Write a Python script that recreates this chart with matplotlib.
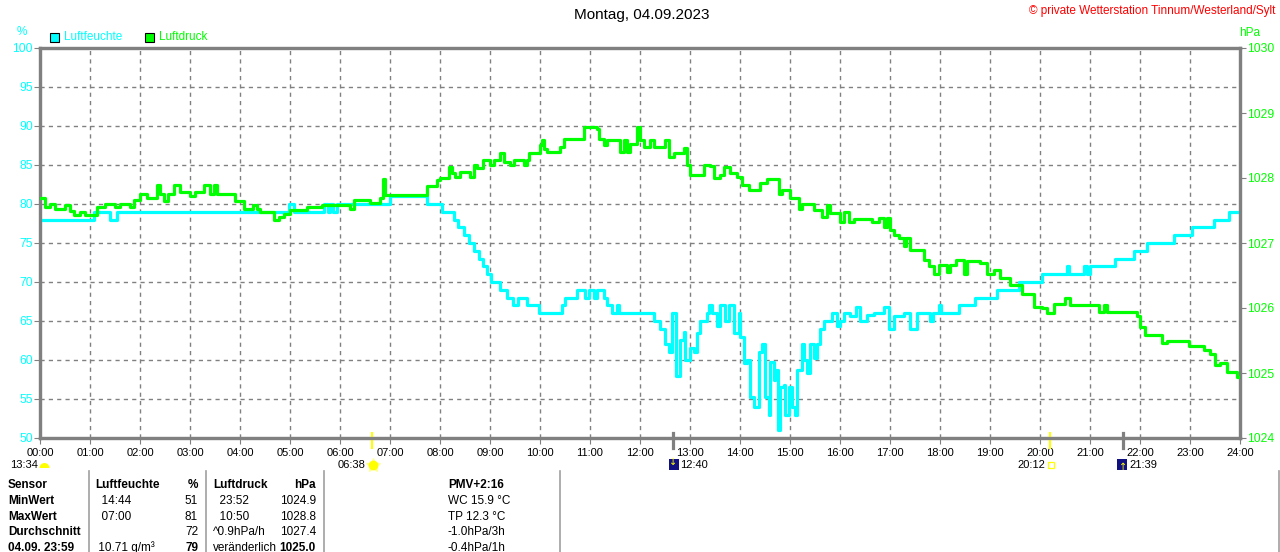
import matplotlib
matplotlib.use("Agg")
import matplotlib.pyplot as plt
from matplotlib.patches import Rectangle, Wedge

plt.rcParams['font.family'] = ['Liberation Sans', 'DejaVu Sans']

# Luftfeuchte (%), time in hours, step values
hum_t = [0.0, 1.07, 1.40, 1.53, 4.97, 5.07, 5.67, 5.75, 5.80, 5.85, 5.93, 7.0, 7.74, 8.04, 8.27,
         8.37, 8.47, 8.57, 8.67, 8.77, 8.87, 8.93, 9.03, 9.2, 9.33, 9.45, 9.55, 9.73, 9.97, 10.43,
         10.5, 10.73, 10.9, 10.97, 11.07, 11.13, 11.27, 11.33, 11.43, 11.53, 11.57,
         12.27, 12.4, 12.5, 12.57, 12.63, 12.72, 12.8, 12.87, 12.9, 13.0, 13.07, 13.13, 13.2, 13.33,
         13.37, 13.43, 13.53, 13.6, 13.7, 13.77, 13.87, 13.97, 14.0, 14.07, 14.13, 14.2, 14.27,
         14.37, 14.43, 14.5, 14.57, 14.6, 14.67, 14.7, 14.75, 14.8, 14.87, 14.9, 14.97, 15.03,
         15.1, 15.13, 15.23, 15.27, 15.33, 15.4, 15.47, 15.53, 15.6, 15.67, 15.83, 15.93, 16.0,
         16.07, 16.2, 16.33, 16.4, 16.53, 16.67, 16.87, 16.97, 17.07, 17.27, 17.4, 17.53, 17.8,
         17.85, 17.97, 18.02, 18.37, 18.7, 19.13, 19.57, 20.03, 20.53, 20.58, 20.87, 20.93, 21.0,
         21.5, 21.87, 22.13, 22.67, 23.03, 23.47, 23.77, 24.0]
hum_v = [78, 79, 78, 79, 80, 79, 80, 79, 80, 79, 80, 81, 80, 79, 78,
         77, 76, 75, 74, 73, 72, 71, 70, 69, 68, 67, 68, 67, 66, 67,
         68, 69, 68, 69, 68, 69, 68, 67, 66, 67, 66,
         65, 64, 62, 61, 66, 58, 62.6, 63.6, 60, 61.5, 61, 63.4, 65, 66,
         67, 66, 64.3, 67, 65, 67, 63.4, 66, 63, 59.6, 60, 55.3, 54,
         61, 62, 55.3, 53, 59.8, 57.4, 58.7, 51, 56.6, 56.8, 53, 56.6, 54,
         53, 58.7, 62, 60, 58.3, 62, 60.2, 62, 64, 65, 66, 64.3, 65,
         66, 65.6, 66.8, 65, 65.8, 66, 66.8, 64, 65.6, 66, 64, 66, 65,
         66, 67, 66, 67, 68, 69, 70, 71, 72, 71, 72, 71, 72,
         73, 74, 75, 76, 77, 78, 79, 79]

# Luftdruck (hPa)
pres_t = [0.0, 0.1, 0.2, 0.3, 0.5, 0.6, 0.67, 0.8, 0.9, 1.13, 1.3, 1.5, 1.6, 1.8, 1.87, 2.0,
          2.13, 2.33, 2.4, 2.47, 2.55, 2.67, 2.8, 3.0, 3.1, 3.27, 3.4, 3.47, 3.53, 3.9, 4.07,
          4.27, 4.33, 4.4, 4.67, 4.77, 4.87, 5.0, 5.33, 5.63, 6.2, 6.27, 6.6, 6.8, 6.85, 6.9,
          7.73, 7.93, 8.0, 8.17, 8.23, 8.3, 8.4, 8.6, 8.67, 8.73, 8.87, 9.0, 9.07, 9.2, 9.27,
          9.4, 9.47, 9.67, 9.73, 9.77, 10.0, 10.03, 10.07, 10.13, 10.4, 10.47, 10.87, 11.13,
          11.17, 11.27, 11.33, 11.6, 11.67, 11.73, 11.8, 11.93, 12.0, 12.07, 12.2, 12.27, 12.5,
          12.57, 12.67, 12.87, 12.93, 13.0, 13.27, 13.4, 13.47, 13.6, 13.67, 13.8, 13.93, 14.03,
          14.17, 14.4, 14.53, 14.77, 14.83, 15.0, 15.17, 15.23, 15.47, 15.63, 15.73, 15.8, 16.0,
          16.07, 16.17, 16.27, 16.63, 16.77, 16.87, 16.93, 17.0, 17.07, 17.17, 17.27, 17.33,
          17.4, 17.67, 17.77, 17.87, 17.97, 18.13, 18.2, 18.33, 18.47, 18.53, 18.8, 18.93,
          19.07, 19.2, 19.4, 19.63, 19.87, 20.03, 20.13, 20.27, 20.5, 20.6, 21.17, 21.27, 21.33,
          21.93, 22.0, 22.1, 22.43, 22.53, 22.97, 23.27, 23.4, 23.5, 23.6, 23.73, 23.93, 24.0]
pres_v = [1027.69, 1027.55, 1027.6, 1027.53, 1027.58, 1027.5, 1027.43, 1027.48, 1027.43,
          1027.56, 1027.6, 1027.55, 1027.6, 1027.56, 1027.66, 1027.76,
          1027.7, 1027.89, 1027.76, 1027.64, 1027.75, 1027.89, 1027.79, 1027.72, 1027.79,
          1027.89, 1027.76, 1027.89, 1027.76, 1027.64, 1027.52,
          1027.58, 1027.52, 1027.48, 1027.35, 1027.4, 1027.45, 1027.51, 1027.56, 1027.59,
          1027.53, 1027.66, 1027.62, 1027.69, 1027.99, 1027.74,
          1027.87, 1027.97, 1028.0, 1028.17, 1028.07, 1028.02, 1028.1, 1028.02, 1028.2,
          1028.15, 1028.28, 1028.2, 1028.28, 1028.38, 1028.25,
          1028.2, 1028.28, 1028.2, 1028.28, 1028.38, 1028.51, 1028.58, 1028.45, 1028.4,
          1028.48, 1028.6, 1028.78, 1028.76,
          1028.6, 1028.51, 1028.58, 1028.4, 1028.58, 1028.4, 1028.52, 1028.79, 1028.58,
          1028.48, 1028.58, 1028.48, 1028.58,
          1028.33, 1028.38, 1028.46, 1028.2, 1028.05, 1028.2, 1028.18, 1028.0, 1028.05,
          1028.17, 1028.07, 1028.02, 1027.89,
          1027.82, 1027.92, 1027.98, 1027.75, 1027.81, 1027.69, 1027.53, 1027.6, 1027.51,
          1027.4, 1027.58, 1027.46, 1027.33,
          1027.48, 1027.33, 1027.37, 1027.32, 1027.38, 1027.24, 1027.38, 1027.2, 1027.12,
          1027.07, 1026.95, 1027.07,
          1026.9, 1026.74, 1026.64, 1026.53, 1026.66, 1026.56, 1026.66, 1026.74, 1026.53,
          1026.72, 1026.69, 1026.53,
          1026.58, 1026.46, 1026.35, 1026.22, 1026.02, 1026.0, 1025.92, 1026.06, 1026.15,
          1026.05, 1025.94, 1026.05, 1025.94,
          1025.87, 1025.71, 1025.58, 1025.46, 1025.5, 1025.41, 1025.35, 1025.3, 1025.12,
          1025.15, 1025.02, 1024.94, 1024.94]

hour_labels = ["%02d:00" % h for h in range(25)]
hum_ticks = list(range(50, 101, 5))
pres_ticks = list(range(1024, 1031))

CYAN = "#00ffff"
GREEN = "#00ff00"
GRAY = "#808080"

W, H = 1280, 552
fig = plt.figure(figsize=(12.8, 5.52), dpi=100)
fig.patch.set_facecolor("white")


def ftext(x, y, s, **kw):
    # x, y in pixels from top-left
    kw.setdefault("fontsize", 8.5)
    kw.setdefault("va", "center")
    fig.text(x / W, 1 - y / H, s, **kw)


ax = fig.add_axes([40 / W, 114 / H, 1200 / W, 390 / H])
ax2 = ax.twinx()

ax.step(hum_t, hum_v, where="post", color=CYAN, lw=2.3, zorder=3)
ax2.step(pres_t, pres_v, where="post", color=GREEN, lw=2.3, zorder=4)

ax.set_xlim(0, 24)
ax.set_ylim(50, 100)
ax2.set_ylim(1024, 1030)
ax.set_xticks(range(25))
ax.set_xticklabels(hour_labels)
ax.set_yticks(hum_ticks)
ax2.set_yticks(pres_ticks)

ax.grid(True, color=GRAY, linestyle=(0, (3, 3)), linewidth=1)
ax.set_axisbelow(True)
for a in (ax, ax2):
    for s in a.spines.values():
        s.set_color(GRAY)
        s.set_linewidth(2.3)
ax.tick_params(axis="x", colors="black", labelsize=8, length=4, color=GRAY, pad=3)
ax.tick_params(axis="y", colors=CYAN, labelsize=8.8, length=4, color=GRAY, pad=1)
ax2.tick_params(axis="y", colors=GREEN, labelsize=8.8, length=4, color=GRAY, pad=1)

# sun / moon markers on the time axis
tr = ax.get_xaxis_transform()
for t in [6 + 38 / 60, 20 + 12 / 60]:
    ax.plot([t, t], [-0.025, 0.013], color="#ffff00", lw=1.5, transform=tr, clip_on=False, zorder=5)
for t in [12 + 40 / 60, 21 + 39 / 60]:
    ax.plot([t, t], [-0.025, 0.013], color=GRAY, lw=2.3, transform=tr, clip_on=False, zorder=5)

# texts around the chart
ftext(642, 15, "Montag, 04.09.2023", fontsize=11, ha="center")
ftext(1275, 11, "© private Wetterstation Tinnum/Westerland/Sylt", color="#ff0000", ha="right")
ftext(22, 32, "%", color=CYAN, ha="center")
ftext(1250, 33, "hPa", color=GREEN, ha="center")

fig.add_artist(Rectangle((50 / 100, (H - 42) / 100), 0.09, 0.09, transform=fig.dpi_scale_trans,
                         facecolor=CYAN, edgecolor="black", lw=0.8))
ftext(64, 37, "Luftfeuchte", color=CYAN)
fig.add_artist(Rectangle((145 / 100, (H - 42) / 100), 0.09, 0.09, transform=fig.dpi_scale_trans,
                         facecolor=GREEN, edgecolor="black", lw=0.8))
ftext(159, 37, "Luftdruck", color=GREEN)

# rise / set times below axis
RY = 465.5
ftext(10, RY, "13:34", fontsize=8)
fig.add_artist(Wedge((44.5 / 100, (H - 468) / 100), 0.05, 0, 180, transform=fig.dpi_scale_trans,
                     facecolor="#ffff00", edgecolor="none"))
ftext(366, RY, "06:38", ha="right", fontsize=8)
fig.add_artist(plt.Line2D([373 / W], [1 - 465 / H], marker="*", markersize=10, color="#ffff99",
                          transform=fig.transFigure))
fig.add_artist(plt.Line2D([373 / W], [1 - 465 / H], marker="o", markersize=6, color="#ffff00",
                          transform=fig.transFigure))
fig.add_artist(Rectangle((669 / 100, (H - 470) / 100), 0.1, 0.11, transform=fig.dpi_scale_trans,
                         facecolor="#101080", edgecolor="none"))
ftext(673, 462, "↓", color="#ffff00", fontsize=7, ha="center", family="DejaVu Sans")
ftext(680, RY, "12:40", fontsize=8)
ftext(1045, RY, "20:12", ha="right", fontsize=8)
fig.add_artist(Rectangle((1047.5 / 100, (H - 468) / 100), 0.06, 0.06, transform=fig.dpi_scale_trans,
                         facecolor="none", edgecolor="#ffff00", lw=0.9))
fig.add_artist(Rectangle((1117 / 100, (H - 470) / 100), 0.1, 0.11, transform=fig.dpi_scale_trans,
                         facecolor="#101080", edgecolor="none"))
ftext(1123, 467, "↑", color="#ffff00", fontsize=7, ha="center", family="DejaVu Sans")
ftext(1129, RY, "21:39", fontsize=8)

# table below
for x in [88.5, 205.5, 323.5, 559.5, 1279]:
    fig.add_artist(plt.Line2D([x / W, x / W], [1 - 471 / H, 0], color="#a0a0a0", lw=1.2,
                              transform=fig.transFigure))

row_y = [485, 501, 517, 532, 548]
row_names = ["Sensor", "MinWert", "MaxWert", "Durchschnitt", "04.09. 23:59"]
hum_time = ["Luftfeuchte", "  14:44", "  07:00", "", " 10.71 g/m³"]
hum_val = ["%", "51", "81", "72", "79"]
pres_time = ["Luftdruck", "  23:52", "  10:50", "^0.9hPa/h", "veränderlich"]
pres_val = ["hPa", "1024.9", "1028.8", "1027.4", "1025.0"]
extra = ["PMV+2:16", "WC 15.9 °C", "TP 12.3 °C", "-1.0hPa/3h", "-0.4hPa/1h"]

for i, y in enumerate(row_y):
    head = i == 0
    ftext(8, y, row_names[i], fontweight="bold")
    ftext(95, y, hum_time[i], fontweight="bold" if head else "normal")
    ftext(198, y, hum_val[i], ha="right", fontweight="bold" if head or i == 4 else "normal")
    ftext(213, y, pres_time[i], fontweight="bold" if head else "normal")
    ftext(316, y, pres_val[i], ha="right", fontweight="bold" if head or i == 4 else "normal")
    ftext(448, y, extra[i], fontweight="bold" if head else "normal")

fig.savefig("out.png", dpi=100, facecolor="white")
